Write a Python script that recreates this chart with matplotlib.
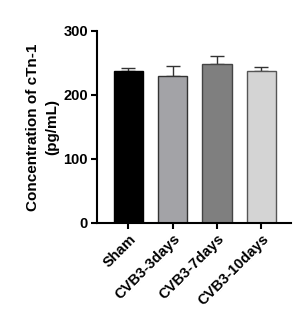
import matplotlib
matplotlib.use("Agg")
import matplotlib.pyplot as plt

categories = ["Sham", "CVB3-3days", "CVB3-7days", "CVB3-10days"]
values = [238, 230, 249, 238]
errors = [4, 15, 12, 6]
colors = ["#000000", "#A3A3A7", "#7F7F7F", "#D4D4D4"]
edges = ["#000000", "#333333", "#444444", "#555555"]

plt.rcParams['font.family'] = ['Liberation Sans', 'DejaVu Sans']
plt.rcParams['font.weight'] = 'bold'

fig = plt.figure(figsize=(2.96, 3.19), dpi=100)
ax = fig.add_axes([97/296, 1-223/319, (291-97)/296, (223-31)/319])

x = range(len(categories))
ax.bar(x, values, width=0.66, color=colors, edgecolor=edges, linewidth=1.0, zorder=2)
ax.errorbar(x, values, yerr=[[0]*4, errors], fmt='none', ecolor='#333333',
            elinewidth=1.0, capsize=5, capthick=1.0, zorder=1)

ax.set_ylim(0, 300)
ax.set_xlim(-0.71, 3.67)
ax.set_yticks([0, 100, 200, 300])
ax.set_yticklabels(["0", "100", "200", "300"], fontsize=10.5, fontweight='bold')
ax.set_xticks(list(x))
ax.set_xticklabels(categories, rotation=45, ha='right', rotation_mode='anchor',
                   fontsize=10.5, fontweight='bold')
for s in ['top', 'right']:
    ax.spines[s].set_visible(False)
for s in ['left', 'bottom']:
    ax.spines[s].set_linewidth(1.5)
ax.tick_params(axis='both', width=1.5, length=4.5, pad=2)
ax.set_ylabel("Concentration of cTn-1\n(pg/mL)", fontsize=11, fontweight='bold',
              linespacing=1.45, labelpad=3)

fig.savefig("out.png", dpi=100)
